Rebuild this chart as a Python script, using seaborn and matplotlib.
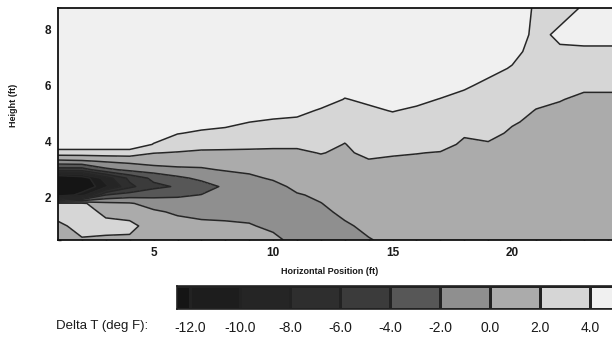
import numpy as np
import matplotlib
matplotlib.use("Agg")
import matplotlib.pyplot as plt
from matplotlib.colors import ListedColormap, BoundaryNorm
from matplotlib.ticker import MultipleLocator
import seaborn as sns

# ---------------- data ----------------
heights = [0.5, 1.0, 1.5, 1.8, 2.1, 2.4, 2.7, 3.0, 3.3, 3.6, 3.9, 4.3, 4.7,
           5.1, 5.5, 6.0, 6.6, 7.2, 7.8, 8.75]
positions = [1, 2, 3, 4, 5, 6, 7, 8, 9, 10, 11, 12, 13, 14, 15, 16, 17, 18,
             19, 20, 21, 22, 23, 25]

# vertical Delta-T profiles (deg F), one per horizontal position, bottom -> top
profiles = [
    [1.2, 1.5, 3.0, 2.5, -14, -16, -15, -5, -0.5, 3.0, 5.5, 5.2, 5.0, 5.0, 5.0, 5.0, 5.0, 5.0, 5.0, 5.0],
    [1.8, 2.8, 3.2, 2.4, -11, -14, -13.5, -5, -0.3, 3.0, 5.5, 5.2, 5.0, 5.0, 5.0, 5.0, 5.0, 5.0, 5.0, 5.0],
    [1.6, 2.8, 1.4, 0.5, -4, -10.5, -9, -2.5, 0.2, 3.0, 5.5, 5.2, 5.0, 5.0, 5.0, 5.0, 5.0, 5.0, 5.0, 5.0],
    [1.6, 2.6, 1.0, 0.2, -3, -6.5, -5.5, -1.5, 0.5, 3.0, 5.5, 5.2, 5.0, 5.0, 5.0, 5.0, 5.0, 5.0, 5.0, 5.0],
    [1.4, 1.0, 0.3, -0.8, -2.6, -4.5, -3.5, -1.0, 1.0, 2.05, 3.9, 5.0, 5.0, 5.0, 5.0, 5.0, 5.0, 5.0, 5.0, 5.0],
    [1.2, 0.8, -0.3, -1.2, -2.3, -3.8, -2.4, -0.6, 1.2, 1.9, 2.8, 4.1, 5.0, 5.0, 5.0, 5.0, 5.0, 5.0, 5.0, 5.0],
    [1.0, 0.5, -0.6, -1.3, -1.95, -2.8, -1.6, -0.3, 0.9, 1.7, 2.6, 3.7, 4.8, 5.0, 5.0, 5.0, 5.0, 5.0, 5.0, 5.0],
    [0.8, 0.4, -0.7, -1.2, -1.6, -1.7, -1.2, 0.2, 1.0, 1.7, 2.5, 3.5, 4.5, 5.0, 5.0, 5.0, 5.0, 5.0, 5.0, 5.0],
    [0.7, 0.2, -0.8, -1.2, -1.4, -1.3, -0.5, 0.5, 1.1, 1.7, 2.4, 3.3, 4.02, 4.8, 5.0, 5.0, 5.0, 5.0, 5.0, 5.0],
    [0.6, -0.5, -1.1, -1.2, -1.1, -0.8, 0.3, 0.8, 1.3, 1.7, 2.3, 3.2, 3.8, 4.6, 5.0, 5.0, 5.0, 5.0, 5.0, 5.0],
    [-0.8, -1.0, -0.9, -0.7, -0.2, 0.6, 1.0, 1.3, 1.5, 1.8, 2.2, 3.0, 3.7, 4.4, 5.0, 5.0, 5.0, 5.0, 5.0, 5.0],
    [-0.7, -0.6, -0.4, -0.05, 0.4, 0.8, 1.1, 1.4, 1.7, 2.05, 2.5, 3.0, 3.4, 3.85, 4.6, 5.0, 5.0, 5.0, 5.0, 5.0],
    [-0.5, -0.25, 0.4, 0.8, 1.0, 1.2, 1.4, 1.5, 1.6, 1.8, 1.95, 2.4, 3.0, 3.5, 3.95, 4.5, 5.0, 5.0, 5.0, 5.0],
    [-0.1, 0.4, 0.8, 1.0, 1.2, 1.4, 1.6, 1.7, 1.9, 2.3, 2.7, 3.0, 3.4, 3.8, 4.2, 4.8, 5.0, 5.0, 5.0, 5.0],
    [0.4, 0.6, 0.9, 1.1, 1.3, 1.4, 1.6, 1.7, 1.85, 2.1, 2.6, 3.1, 3.6, 4.05, 4.6, 5.0, 5.0, 5.0, 5.0, 5.0],
    [0.5, 0.7, 1.0, 1.2, 1.3, 1.4, 1.5, 1.6, 1.8, 2.03, 2.4, 2.9, 3.4, 3.8, 4.3, 4.9, 5.0, 5.0, 5.0, 5.0],
    [0.6, 0.8, 1.0, 1.2, 1.3, 1.4, 1.5, 1.6, 1.75, 1.95, 2.3, 2.8, 3.2, 3.6, 3.95, 4.6, 5.0, 5.0, 5.0, 5.0],
    [0.6, 0.8, 1.0, 1.1, 1.2, 1.3, 1.4, 1.5, 1.6, 1.7, 1.85, 2.1, 2.7, 3.2, 3.6, 4.2, 4.8, 5.0, 5.0, 5.0],
    [0.6, 0.8, 1.0, 1.1, 1.2, 1.3, 1.4, 1.5, 1.6, 1.7, 1.9, 2.3, 2.6, 2.9, 3.2, 3.7, 4.4, 4.9, 5.0, 5.0],
    [0.6, 0.8, 0.9, 1.0, 1.1, 1.2, 1.3, 1.4, 1.5, 1.6, 1.7, 1.85, 2.1, 2.5, 2.9, 3.3, 3.9, 4.4, 4.7, 4.9],
    [0.6, 0.7, 0.8, 0.9, 1.0, 1.1, 1.2, 1.3, 1.4, 1.5, 1.6, 1.7, 1.8, 1.95, 2.3, 2.8, 3.2, 3.5, 3.7, 3.8],
    [0.6, 0.7, 0.8, 0.9, 1.0, 1.1, 1.2, 1.3, 1.4, 1.45, 1.5, 1.55, 1.6, 1.8, 2.05, 2.6, 3.1, 3.85, 4.2, 3.6],
    [0.6, 0.7, 0.8, 0.9, 1.0, 1.1, 1.2, 1.3, 1.35, 1.4, 1.45, 1.5, 1.55, 1.6, 1.8, 2.2, 2.9, 3.8, 4.4, 4.1],
    [0.6, 0.7, 0.8, 0.9, 1.0, 1.1, 1.2, 1.3, 1.35, 1.4, 1.45, 1.5, 1.55, 1.6, 1.8, 2.2, 2.9, 3.8, 4.4, 4.6],
]

# contour levels (deg F) and legend labels
bounds = [-20, -12, -10, -8, -6, -4, -2, 0, 2, 4, 6]
line_levels = [-12, -10, -8, -6, -4, -2, 0, 2, 4]
gray_colors = ["#151515", "#1d1d1d", "#252525", "#2e2e2e", "#3b3b3b",
               "#575757", "#8f8f8f", "#ababab", "#d6d6d6", "#f0f0f0"]

# ---------------- style ----------------
sns.set_theme(style="ticks")
plt.rcParams["font.family"] = ["Liberation Sans", "DejaVu Sans"]

W, H = 612, 347
fig = plt.figure(figsize=(W / 100, H / 100), dpi=100)
fig.patch.set_facecolor("white")

ax = fig.add_axes([58 / W, 107 / H, (631.6 - 58) / W, 232 / H])
X, Y = np.meshgrid(positions, heights)
Z = np.array(profiles).T

cmap = ListedColormap(sns.color_palette(gray_colors))
norm = BoundaryNorm(bounds, cmap.N)
ax.contourf(X, Y, Z, levels=bounds, cmap=cmap, norm=norm)
ax.contour(X, Y, Z, levels=line_levels, colors="#262626", linewidths=1.1,
           linestyles="solid")

ax.set_xlim(1, 25)
ax.set_ylim(0.5, 8.75)
ax.set_xticks([5, 10, 15, 20])
ax.set_yticks([2, 4, 6, 8])
ax.xaxis.set_minor_locator(MultipleLocator(1))
ax.yaxis.set_minor_locator(MultipleLocator(0.25))
ax.tick_params(which="both", direction="in", color="#111111", width=1.0,
               top=False, right=False)
ax.tick_params(which="major", length=5)
ax.tick_params(which="minor", length=2.5)
ax.tick_params(axis="x", pad=5)
ax.tick_params(axis="y", pad=5)
for lab in ax.get_xticklabels() + ax.get_yticklabels():
    lab.set_fontsize(8.5)
    lab.set_fontweight("bold")
    lab.set_color("#1a1a1a")
for side in ["left", "bottom", "top", "right"]:
    ax.spines[side].set_linewidth(1.3)
    ax.spines[side].set_color("#111111")

fig.text(330 / W, 1 - 271 / H, "Horizontal Position (ft)", ha="center",
         va="center", fontsize=6.5, fontweight="bold", color="#1a1a1a")
fig.text(13.5 / W, 1 - 105 / H, "Height (ft)", ha="center", va="center",
         rotation=90, fontsize=6.5, fontweight="bold", color="#1a1a1a")

# ---------------- legend bar ----------------
cax = fig.add_axes([177 / W, (H - 309) / H, (640 - 177) / W, 23 / H])
cax.pcolormesh(bounds, [0, 1], np.array(bounds[:-1])[None, :] + 0.5,
               cmap=cmap, norm=norm, edgecolors="#222222", linewidth=0.8)
cax.set_xlim(-12.52, 6)
cax.set_ylim(0, 1)
cax.set_yticks([])
cax.set_xticks(line_levels)
cax.set_xticklabels([f"{v:.1f}" for v in line_levels])
cax.tick_params(axis="x", length=0, pad=8.5, labelsize=10, labelcolor="#1a1a1a")
for s in cax.spines.values():
    s.set_linewidth(1.2)
    s.set_color("#222222")

fig.text(148 / W, 1 - 326 / H, "Delta T (deg F):", ha="right", va="center",
         fontsize=9.5, color="#1a1a1a")

fig.savefig("out.png", dpi=100, facecolor="white")
